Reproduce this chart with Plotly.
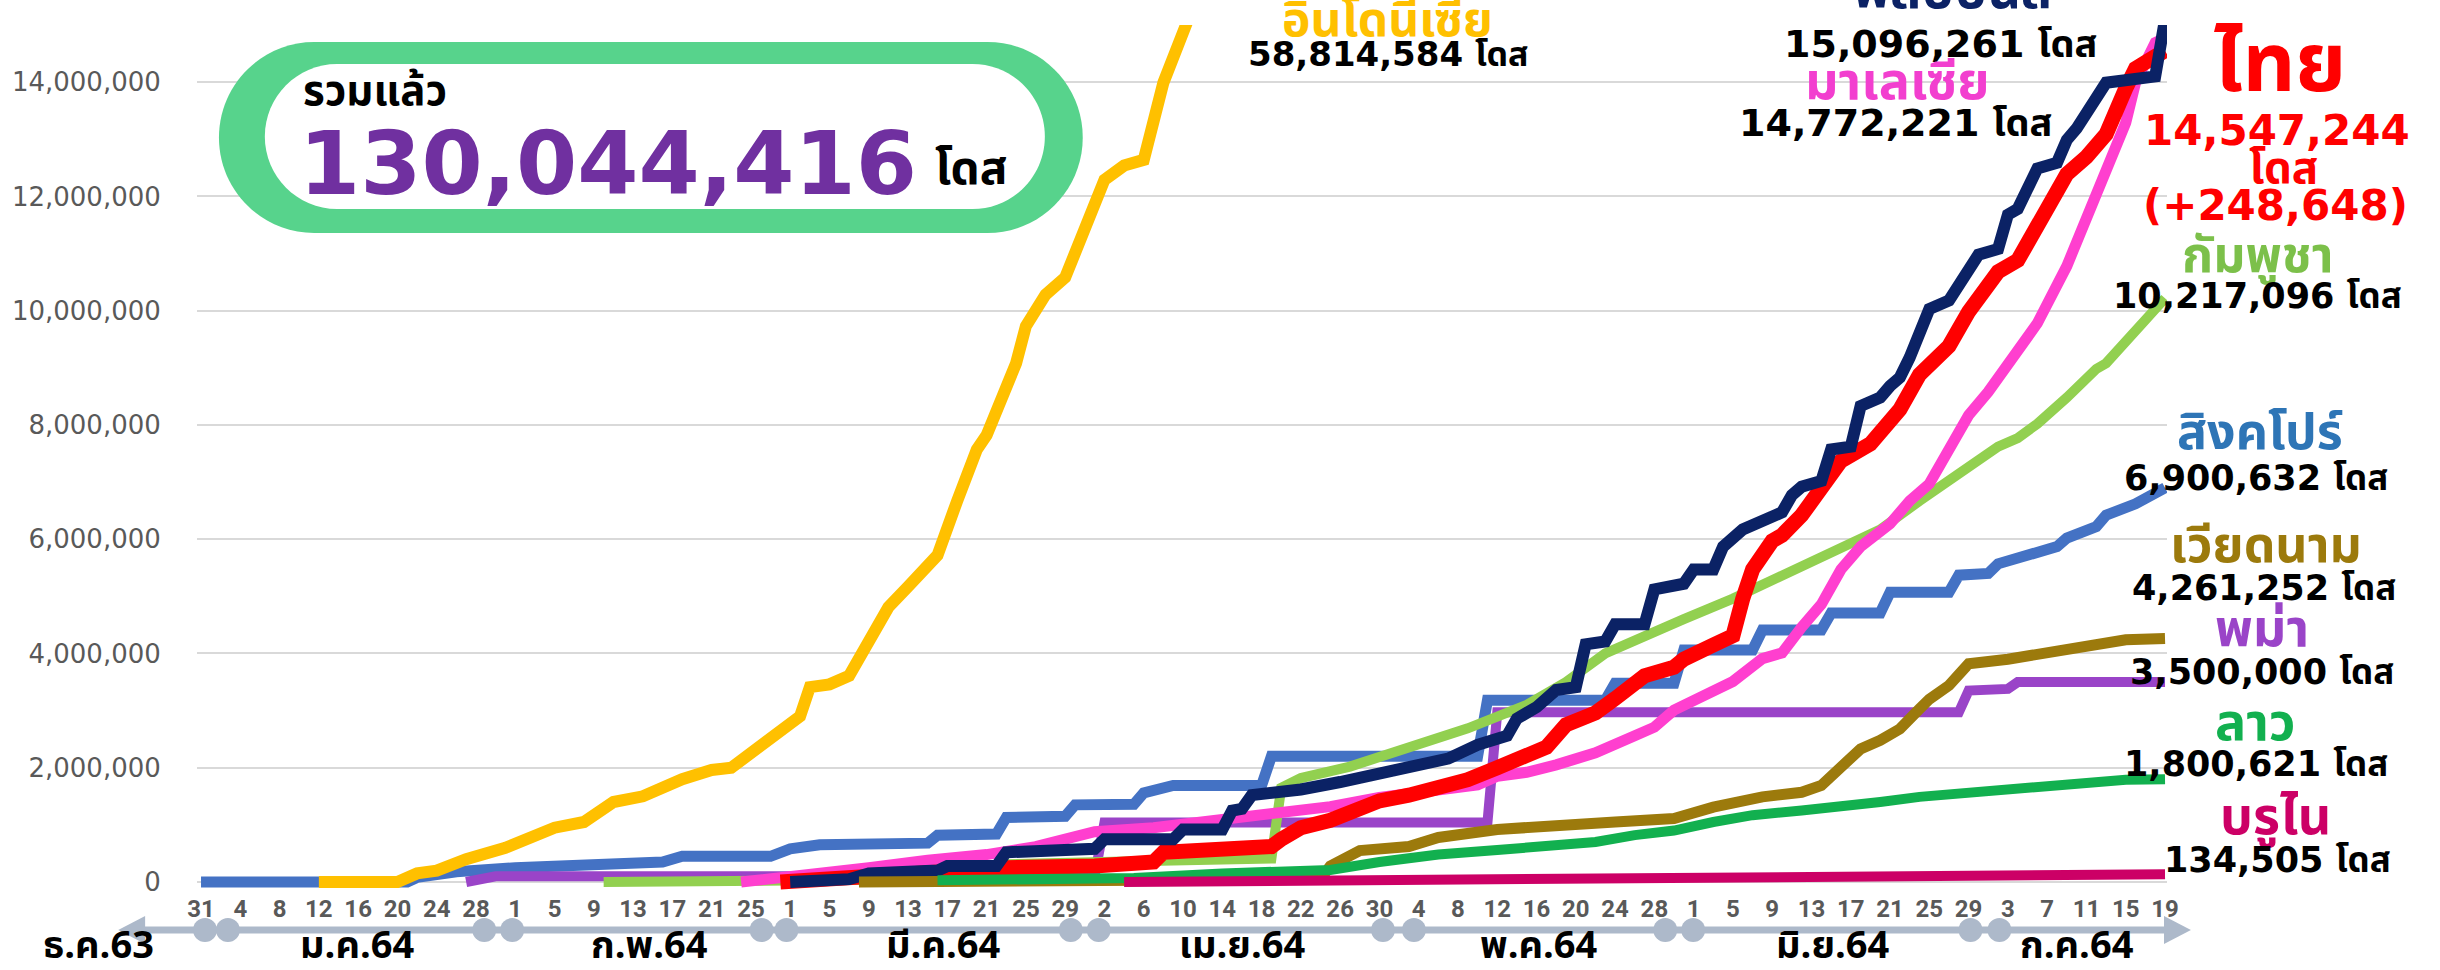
import plotly.graph_objects as go
import pandas as pd

# ---------------- data (doses) ----------------
SG_DATES = ["2020-12-31", "2021-01-21", "2021-01-22", "2021-01-26", "2021-02-01", "2021-02-09", "2021-02-16",
            "2021-02-18", "2021-02-27", "2021-03-01", "2021-03-04", "2021-03-15", "2021-03-16", "2021-03-22",
            "2021-03-23", "2021-03-29", "2021-03-30", "2021-04-05", "2021-04-06", "2021-04-09", "2021-04-18",
            "2021-04-19", "2021-05-10", "2021-05-11", "2021-05-23", "2021-05-24", "2021-05-30", "2021-05-31",
            "2021-06-07", "2021-06-08", "2021-06-14", "2021-06-15", "2021-06-20", "2021-06-21", "2021-06-27",
            "2021-06-28", "2021-07-01", "2021-07-02", "2021-07-06", "2021-07-08", "2021-07-09", "2021-07-11",
            "2021-07-12", "2021-07-13", "2021-07-16", "2021-07-19"]
SG_DOSES = [0, 0, 80000, 180000, 250000, 300000, 350000,
            450000, 450000, 580000, 650000, 680000, 820000, 840000,
            1130000, 1150000, 1350000, 1360000, 1560000, 1690000, 1690000,
            2200000, 2200000, 3180000, 3180000, 3480000, 3480000, 4060000,
            4060000, 4410000, 4410000, 4710000, 4710000, 5070000, 5070000,
            5370000, 5400000, 5570000, 5770000, 5870000, 6020000, 6170000,
            6220000, 6420000, 6620000, 6900632]

MM_DATES = ["2021-01-27", "2021-01-30", "2021-04-01", "2021-04-02", "2021-05-11", "2021-05-12",
            "2021-06-28", "2021-06-29", "2021-07-03", "2021-07-04", "2021-07-19"]
MM_DOSES = [0, 100000, 100000, 1040000, 1040000, 2970000,
            2970000, 3350000, 3380000, 3500000, 3500000]

KH_DATES = ["2021-02-10", "2021-03-16", "2021-03-21", "2021-03-23", "2021-04-04", "2021-04-19", "2021-04-20",
            "2021-04-22", "2021-04-27", "2021-05-03", "2021-05-09", "2021-05-15", "2021-05-19", "2021-05-23",
            "2021-05-28", "2021-05-31", "2021-06-05", "2021-06-10", "2021-06-15", "2021-06-20", "2021-06-24",
            "2021-06-29", "2021-07-02", "2021-07-04", "2021-07-06", "2021-07-09", "2021-07-12", "2021-07-13",
            "2021-07-15", "2021-07-17", "2021-07-19"]
KH_DOSES = [0, 50000, 250000, 310000, 360000, 410000, 1650000,
            1820000, 2020000, 2350000, 2690000, 3100000, 3500000, 4000000,
            4350000, 4600000, 4960000, 5370000, 5770000, 6170000, 6670000,
            7270000, 7620000, 7770000, 8020000, 8480000, 8980000, 9080000,
            9480000, 9880000, 10217096]

MY_DATES = ["2021-02-24", "2021-03-03", "2021-03-09", "2021-03-15", "2021-03-21", "2021-03-26", "2021-04-01",
            "2021-04-07", "2021-04-13", "2021-04-19", "2021-04-25", "2021-04-30", "2021-05-06", "2021-05-10",
            "2021-05-12", "2021-05-15", "2021-05-18", "2021-05-22", "2021-05-26", "2021-05-28", "2021-05-30",
            "2021-06-02", "2021-06-05", "2021-06-08", "2021-06-10", "2021-06-12", "2021-06-14", "2021-06-16",
            "2021-06-18", "2021-06-21", "2021-06-23", "2021-06-25", "2021-06-27", "2021-06-29", "2021-07-01",
            "2021-07-03", "2021-07-06", "2021-07-09", "2021-07-11", "2021-07-13", "2021-07-15", "2021-07-16",
            "2021-07-18", "2021-07-19"]
MY_DOSES = [0, 110000, 250000, 380000, 480000, 620000, 880000,
            950000, 1080000, 1180000, 1320000, 1480000, 1620000, 1700000,
            1850000, 1920000, 2050000, 2260000, 2560000, 2710000, 3010000,
            3260000, 3510000, 3910000, 4010000, 4460000, 4860000, 5470000,
            5870000, 6270000, 6670000, 6970000, 7570000, 8170000, 8580000,
            9080000, 9780000, 10780000, 11580000, 12390000, 13290000, 13990000,
            14690000, 14772221]

TH_DATES = ["2021-02-28", "2021-03-09", "2021-03-19", "2021-03-22", "2021-03-23", "2021-04-01", "2021-04-07",
            "2021-04-08", "2021-04-13", "2021-04-19", "2021-04-20", "2021-04-22", "2021-04-25", "2021-04-28",
            "2021-04-30", "2021-05-03", "2021-05-06", "2021-05-09", "2021-05-12", "2021-05-15", "2021-05-17",
            "2021-05-19", "2021-05-22", "2021-05-24", "2021-05-27", "2021-05-30", "2021-05-31", "2021-06-03",
            "2021-06-05", "2021-06-06", "2021-06-07", "2021-06-09", "2021-06-10", "2021-06-12", "2021-06-13",
            "2021-06-14", "2021-06-16", "2021-06-19", "2021-06-20", "2021-06-22", "2021-06-24", "2021-06-25",
            "2021-06-27", "2021-06-29", "2021-07-02", "2021-07-04", "2021-07-06", "2021-07-07", "2021-07-09",
            "2021-07-11", "2021-07-13", "2021-07-15", "2021-07-16", "2021-07-18", "2021-07-19"]
TH_DOSES = [0, 100000, 150000, 180000, 250000, 280000, 350000,
            520000, 580000, 620000, 750000, 950000, 1080000, 1320000,
            1420000, 1520000, 1650000, 1790000, 2000000, 2240000, 2360000,
            2750000, 2960000, 3210000, 3610000, 3760000, 3900000, 4150000,
            4310000, 4960000, 5470000, 5970000, 6070000, 6420000, 6670000,
            6970000, 7370000, 7670000, 7870000, 8270000, 8880000, 9080000,
            9380000, 9980000, 10680000, 10880000, 11480000, 11890000, 12390000,
            12690000, 13090000, 13890000, 14240000, 14450000, 14547244]

PH_DATES = ["2021-03-01", "2021-03-07", "2021-03-09", "2021-03-16", "2021-03-17", "2021-03-22", "2021-03-23",
            "2021-04-01", "2021-04-02", "2021-04-09", "2021-04-10", "2021-04-14", "2021-04-15", "2021-04-16",
            "2021-04-17", "2021-04-19", "2021-04-22", "2021-04-26", "2021-04-30", "2021-05-04", "2021-05-07",
            "2021-05-10", "2021-05-13", "2021-05-14", "2021-05-16", "2021-05-18", "2021-05-20", "2021-05-21",
            "2021-05-23", "2021-05-24", "2021-05-27", "2021-05-28", "2021-05-31", "2021-06-01", "2021-06-03",
            "2021-06-04", "2021-06-06", "2021-06-10", "2021-06-11", "2021-06-12", "2021-06-14", "2021-06-15",
            "2021-06-17", "2021-06-18", "2021-06-20", "2021-06-21", "2021-06-22", "2021-06-23", "2021-06-24",
            "2021-06-25", "2021-06-27", "2021-06-30", "2021-07-02", "2021-07-03", "2021-07-04", "2021-07-06",
            "2021-07-08", "2021-07-09", "2021-07-10", "2021-07-13", "2021-07-18", "2021-07-19"]
PH_DOSES = [0, 50000, 150000, 200000, 280000, 280000, 520000,
            580000, 750000, 750000, 920000, 920000, 1250000, 1280000,
            1520000, 1550000, 1620000, 1750000, 1890000, 2020000, 2160000,
            2400000, 2560000, 2860000, 3060000, 3360000, 3410000, 4160000,
            4210000, 4510000, 4510000, 5120000, 5220000, 5470000, 5470000,
            5870000, 6170000, 6470000, 6770000, 6920000, 7020000, 7570000,
            7620000, 8330000, 8480000, 8680000, 8830000, 9180000, 9580000,
            10030000, 10180000, 10980000, 11080000, 11680000, 11780000, 12490000,
            12590000, 12990000, 13190000, 13990000, 14100000, 15096261]

VN_DATES = ["2021-03-08", "2021-04-24", "2021-04-25", "2021-04-26", "2021-04-28", "2021-05-03", "2021-05-06",
            "2021-05-12", "2021-05-18", "2021-05-24", "2021-05-30", "2021-06-03", "2021-06-08", "2021-06-12",
            "2021-06-14", "2021-06-16", "2021-06-18", "2021-06-20", "2021-06-22", "2021-06-24", "2021-06-25",
            "2021-06-27", "2021-06-29", "2021-07-03", "2021-07-07", "2021-07-11", "2021-07-15", "2021-07-19"]
VN_DOSES = [0, 50000, 280000, 380000, 550000, 620000, 780000,
            920000, 1000000, 1050000, 1110000, 1310000, 1490000, 1570000,
            1690000, 2040000, 2330000, 2480000, 2680000, 3030000, 3200000,
            3440000, 3820000, 3900000, 4020000, 4140000, 4240000, 4261252]

LA_DATES = ["2021-03-16", "2021-04-05", "2021-04-14", "2021-04-25", "2021-04-30", "2021-05-06", "2021-05-12",
            "2021-05-18", "2021-05-22", "2021-05-26", "2021-05-30", "2021-06-03", "2021-06-07", "2021-06-12",
            "2021-06-16", "2021-06-20", "2021-06-24", "2021-06-29", "2021-07-03", "2021-07-07", "2021-07-11",
            "2021-07-15", "2021-07-19"]
LA_DOSES = [30000, 70000, 150000, 210000, 350000, 480000, 560000,
            620000, 700000, 820000, 900000, 1050000, 1170000, 1250000,
            1310000, 1400000, 1490000, 1570000, 1630000, 1690000, 1750000,
            1790000, 1800621]

BN_DATES = ["2021-04-04", "2021-05-20", "2021-06-19", "2021-07-09", "2021-07-19"]
BN_DOSES = [0, 40000, 80000, 110000, 134505]

ID_DATES = ["2021-01-12", "2021-01-20", "2021-01-22", "2021-01-24", "2021-01-27", "2021-01-31", "2021-02-05",
            "2021-02-08", "2021-02-11", "2021-02-14", "2021-02-18", "2021-02-21", "2021-02-23", "2021-02-28",
            "2021-03-02", "2021-03-03", "2021-03-05", "2021-03-07", "2021-03-11", "2021-03-13", "2021-03-15",
            "2021-03-16", "2021-03-18", "2021-03-20", "2021-03-21", "2021-03-24", "2021-03-25", "2021-03-27",
            "2021-03-29", "2021-03-31", "2021-04-02", "2021-04-04", "2021-04-06", "2021-04-08", "2021-04-10",
            "2021-07-19"]
ID_DOSES = [0, 0, 150000, 200000, 400000, 600000, 950000,
            1050000, 1400000, 1500000, 1800000, 1960000, 2000000, 2660000,
            2900000, 3410000, 3460000, 3610000, 4810000, 5170000, 5520000,
            5720000, 6670000, 7570000, 7820000, 9080000, 9730000, 10280000,
            10580000, 11480000, 12290000, 12540000, 12640000, 13990000, 14900000,
            58814584]

Y_TICKS = [0, 2000000, 4000000, 6000000, 8000000, 10000000, 12000000, 14000000]
MONTH_LABELS = ["ธ.ค.63", "ม.ค.64", "ก.พ.64", "มี.ค.64", "เม.ย.64", "พ.ค.64", "มิ.ย.64", "ก.ค.64"]
TOTAL_TEXT = "130,044,416"

# ---------------- geometry helpers (layout only) ----------------
W, H = 2440, 970
L, R, T, B = 192, 2167, 25, 890


def pxx(x):
    return (x - L) / (R - L)


def pxy(y):
    return (B - y) / (B - T)


NUM_FONT = "DejaVu Sans, Noto Sans Thai, Noto Sans Thai UI, Loma, Garuda, Sarabun, Kinnari, Tlwg Typo, sans-serif"
THAI_FONT = "Noto Sans Thai, Noto Sans Thai UI, Loma, Garuda, Sarabun, Kinnari, Tlwg Typo, DejaVu Sans, sans-serif"

fig = go.Figure()

series = [
    ("สิงคโปร์", SG_DATES, SG_DOSES, "#4472C4", 11),
    ("พม่า", MM_DATES, MM_DOSES, "#9A44C8", 10),
    ("กัมพูชา", KH_DATES, KH_DOSES, "#92D050", 10),
    ("มาเลเซีย", MY_DATES, MY_DOSES, "#FF3FCF", 11),
    ("ไทย", TH_DATES, TH_DOSES, "#FF0000", 15),
    ("ฟิลิปปินส์", PH_DATES, PH_DOSES, "#0B2265", 12),
    ("เวียดนาม", VN_DATES, VN_DOSES, "#9C7A0C", 11),
    ("ลาว", LA_DATES, LA_DOSES, "#12B04F", 10),
    ("บรูไน", BN_DATES, BN_DOSES, "#CC0066", 10),
    ("อินโดนีเซีย", ID_DATES, ID_DOSES, "#FFC000", 12),
]
for name, xs, ys, col, wd in series:
    fig.add_trace(go.Scatter(x=xs, y=ys, mode="lines", name=name,
                             line=dict(color=col, width=wd), hoverinfo="x+y+name"))

tick_dates = pd.date_range("2020-12-31", "2021-07-19", freq="4D")
tick_text = [str(d.day) for d in tick_dates]

fig.update_layout(
    width=W, height=H, margin=dict(l=L, r=W - R, t=T, b=H - B, pad=0),
    paper_bgcolor="white", plot_bgcolor="white", showlegend=False,
)
fig.update_xaxes(
    type="date", range=["2020-12-30 14:10", "2021-07-19 04:50"],
    tickvals=list(tick_dates), ticktext=tick_text, showgrid=False, zeroline=False, showline=False,
    ticks="", ticklabelstandoff=2,
    tickfont=dict(family="Roboto, DejaVu Sans", size=24, color="#595959", weight=700),
)
fig.update_yaxes(
    range=[-140000, 15000000], tickvals=Y_TICKS, tickformat=",",
    showgrid=True, gridcolor="#D9D9D9", gridwidth=2, zeroline=False, showline=False,
    ticks="outside", ticklen=30, tickcolor="rgba(0,0,0,0)",
    tickfont=dict(family="DejaVu Sans", size=26, color="#595959"),
)

shapes = []


def stadium(x0, y0, x1, y1, fill):
    r = (y1 - y0) / 2.0
    k = 0.5523 * r
    cy = y0 + r
    pts = [
        ("M", [(x0 + r, y0)]),
        ("L", [(x1 - r, y0)]),
        ("C", [(x1 - r + k, y0), (x1, cy - k), (x1, cy)]),
        ("C", [(x1, cy + k), (x1 - r + k, y1), (x1 - r, y1)]),
        ("L", [(x0 + r, y1)]),
        ("C", [(x0 + r - k, y1), (x0, cy + k), (x0, cy)]),
        ("C", [(x0, cy - k), (x0 + r - k, y0), (x0 + r, y0)]),
    ]
    d = ""
    for cmd, ps in pts:
        d += cmd + " " + " ".join(f"{pxx(a):.5f},{pxy(b):.5f}" for a, b in ps) + " "
    d += "Z"
    return dict(type="path", xref="paper", yref="paper", path=d, fillcolor=fill,
                line=dict(width=0), layer="above")


shapes.append(stadium(214, 42, 1080, 233, "#57D38C"))
shapes.append(stadium(260, 64, 1042, 209, "#FFFFFF"))

# time arrow under the axis
AX_Y = 930
AX_COL = "#ADB9CA"
shapes.append(dict(type="line", xref="paper", yref="paper", x0=pxx(135), x1=pxx(2170),
                   y0=pxy(AX_Y), y1=pxy(AX_Y), line=dict(color=AX_COL, width=7)))
shapes.append(dict(type="path", xref="paper", yref="paper",
                   path=f"M {pxx(113)},{pxy(AX_Y)} L {pxx(140)},{pxy(AX_Y - 14)} L {pxx(140)},{pxy(AX_Y + 14)} Z",
                   fillcolor=AX_COL, line=dict(width=0)))
shapes.append(dict(type="path", xref="paper", yref="paper",
                   path=f"M {pxx(2191)},{pxy(AX_Y)} L {pxx(2164)},{pxy(AX_Y - 14)} L {pxx(2164)},{pxy(AX_Y + 14)} Z",
                   fillcolor=AX_COL, line=dict(width=0)))
for cx in [200, 223, 480, 508, 758, 783, 1068, 1096, 1381, 1412, 1664, 1692, 1970, 1999]:
    shapes.append(dict(type="circle", xref="paper", yref="paper",
                       x0=pxx(cx - 12), x1=pxx(cx + 12), y0=pxy(AX_Y + 12), y1=pxy(AX_Y - 12),
                       fillcolor=AX_COL, line=dict(width=0)))

fig.update_layout(shapes=shapes)

ann = []


def txt(s, x, y, size, color="#000000", font=NUM_FONT, xanchor="center"):
    ann.append(dict(text=s, x=pxx(x), y=pxy(y), xref="paper", yref="paper", showarrow=False,
                    xanchor=xanchor, yanchor="middle",
                    font=dict(family=font, size=size, color=color, weight=700)))


month_x = [93, 352, 646, 940, 1240, 1537, 1832, 2077]
for lab, mx in zip(MONTH_LABELS, month_x):
    txt(lab, mx, 946, 38, "#000000", THAI_FONT)

txt("รวมแล้ว", 296, 92, 42, "#000000", THAI_FONT, "left")
txt(TOTAL_TEXT, 292, 163, 88, "#7030A0", NUM_FONT, "left")
txt("โดส", 968, 170, 46, "#000000", THAI_FONT)

txt("อินโดนีเซีย", 1386, 21, 48, "#FFC000", THAI_FONT)
txt("58,814,584 โดส", 1386, 54, 34)
txt("ฟิลิปปินส์", 1952, -8, 52, "#0B2265", THAI_FONT)
txt("15,096,261 โดส", 1940, 44, 38)
txt("มาเลเซีย", 1897, 83, 52, "#F23FCF", THAI_FONT)
txt("14,772,221 โดส", 1895, 123, 38)
txt("ไทย", 2280, 66, 82, "#FF0000", THAI_FONT)
txt("14,547,244", 2277, 130, 42, "#FF0000")
txt("โดส", 2284, 170, 44, "#FF0000", THAI_FONT)
txt("(+248,648)", 2276, 206, 42, "#FF0000")
txt("กัมพูชา", 2258, 257, 50, "#7CC04A", THAI_FONT)
txt("10,217,096 โดส", 2258, 296, 35)
txt("สิงคโปร์", 2260, 434, 50, "#2E75B6", THAI_FONT)
txt("6,900,632 โดส", 2256, 478, 35)
txt("เวียดนาม", 2266, 547, 50, "#9C7A0C", THAI_FONT)
txt("4,261,252 โดส", 2264, 588, 35)
txt("พม่า", 2262, 630, 52, "#9A44C8", THAI_FONT)
txt("3,500,000 โดส", 2262, 672, 35)
txt("ลาว", 2256, 724, 52, "#12B04F", THAI_FONT)
txt("1,800,621 โดส", 2256, 764, 35)
txt("บรูไน", 2276, 818, 52, "#CC0066", THAI_FONT)
txt("134,505 โดส", 2278, 860, 35)

fig.update_layout(annotations=ann)

fig.write_html("out.html", config={"displayModeBar": False},
               post_script="document.body.style.margin='0';document.body.style.overflow='hidden';")
